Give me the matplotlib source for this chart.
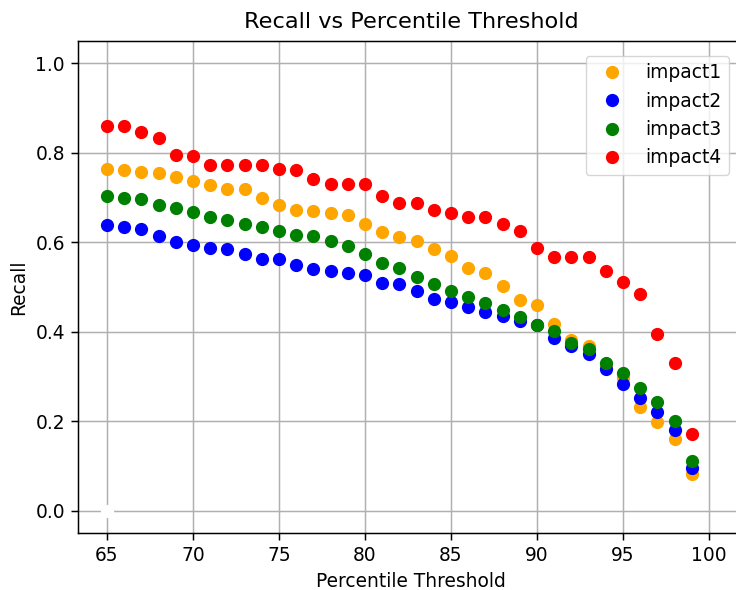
import matplotlib
matplotlib.use("Agg")
import matplotlib.pyplot as plt

thresholds = list(range(65, 100))

impact1 = [0.764, 0.761, 0.758, 0.754, 0.746, 0.736, 0.728, 0.720, 0.718, 0.700,
           0.684, 0.673, 0.671, 0.665, 0.660, 0.641, 0.624, 0.612, 0.602, 0.585,
           0.569, 0.542, 0.531, 0.502, 0.470, 0.460, 0.417, 0.382, 0.367, 0.323,
           0.297, 0.232, 0.198, 0.160, 0.081]
impact2 = [0.638, 0.634, 0.629, 0.615, 0.601, 0.595, 0.588, 0.585, 0.573, 0.563,
           0.563, 0.549, 0.541, 0.535, 0.531, 0.526, 0.508, 0.506, 0.490, 0.474,
           0.466, 0.455, 0.444, 0.435, 0.423, 0.416, 0.387, 0.368, 0.351, 0.317,
           0.284, 0.252, 0.221, 0.180, 0.096]
impact3 = [0.703, 0.698, 0.696, 0.683, 0.677, 0.668, 0.656, 0.649, 0.641, 0.635,
           0.625, 0.617, 0.614, 0.603, 0.591, 0.574, 0.553, 0.543, 0.522, 0.506,
           0.492, 0.477, 0.464, 0.449, 0.432, 0.415, 0.401, 0.375, 0.362, 0.330,
           0.308, 0.274, 0.244, 0.201, 0.112]
impact4 = [0.859, 0.859, 0.846, 0.834, 0.796, 0.792, 0.772, 0.772, 0.772, 0.772,
           0.763, 0.761, 0.741, 0.730, 0.730, 0.730, 0.703, 0.688, 0.688, 0.672,
           0.666, 0.657, 0.657, 0.640, 0.626, 0.588, 0.568, 0.568, 0.568, 0.536,
           0.511, 0.484, 0.396, 0.329, 0.172]

series_names = ["impact1", "impact2", "impact3", "impact4"]
series_colors = ["orange", "blue", "green", "red"]

# white anchor marker visible at (65, 0)
anchor_x = [65]
anchor_y = [0.0]

x_ticks = [65, 70, 75, 80, 85, 90, 95, 100]
y_ticks = [0.0, 0.2, 0.4, 0.6, 0.8, 1.0]

s = 1.34
plt.rcParams["font.family"] = ["DejaVu Sans"]

fig = plt.figure(figsize=(7.36, 5.90), dpi=100)
left_px, right_px, top_px, bottom_px = 78, 744, 41, 533
ax = fig.add_axes([left_px / 736, 1 - bottom_px / 590,
                   (right_px - left_px) / 736, (bottom_px - top_px) / 590])

ax.grid(True, color="#b0b0b0", linewidth=0.8 * s, zorder=0)
ax.set_axisbelow(True)

ax.plot(anchor_x, anchor_y, "o", color="white", markersize=8.5, zorder=2)
for name, vals, col in zip(series_names, [impact1, impact2, impact3, impact4], series_colors):
    ax.plot(thresholds, vals, "o", color=col, markersize=8.5, label=name, zorder=3)

px_per_unit = 17.2
ax.set_xlim(65 - (107 - left_px) / px_per_unit, 65 + (right_px - 107) / px_per_unit)
ax.set_ylim(-0.05, 1.05)
ax.set_xticks(x_ticks)
ax.set_yticks(y_ticks)
ax.tick_params(labelsize=10 * s, width=0.8 * s, length=3.5 * s, pad=3.5 * s)
for sp in ax.spines.values():
    sp.set_linewidth(0.8 * s)

ax.set_title("Recall vs Percentile Threshold", fontsize=12 * s, pad=7 * s)
ax.set_xlabel("Percentile Threshold", fontsize=10 * s, labelpad=4 * s)
ax.set_ylabel("Recall", fontsize=10 * s, labelpad=4 * s)

ax.legend(loc="upper right", fontsize=10 * s, numpoints=1,
          borderaxespad=(right_px - 729) / 18.6,
          handletextpad=0.8, handlelength=2.0)

fig.savefig("out.png", dpi=100)
